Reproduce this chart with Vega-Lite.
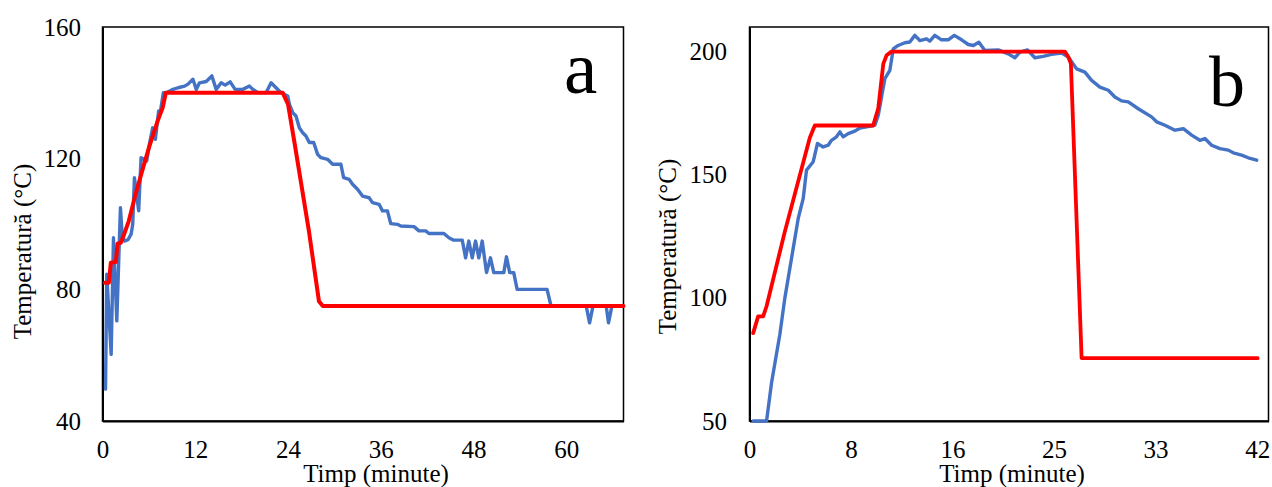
{
  "$schema": "https://vega.github.io/schema/vega-lite/v6.json",
  "background": "white",
  "padding": {"left": 8.5, "top": 14, "right": 2, "bottom": 1},
  "spacing": 126,
  "bounds": "flush",
  "config": {
    "view": {"stroke": "#000", "strokeWidth": 1.5},
    "font": "Liberation Serif",
    "axis": {
      "grid": false, "ticks": false, "domainColor": "#000", "domainWidth": 2,
      "labelFont": "Liberation Serif", "labelFontSize": 25, "labelColor": "#000",
      "labelFlush": false, "labelOverlap": false,
      "titleFont": "Liberation Serif", "titleFontSize": 25, "titleFontWeight": "normal", "titleColor": "#000",
      "titleBaseline": "alphabetic"
    }
  },
  "datasets": {
    "leftMeasured": [
      {"t":0.39,"T":49.7},{"t":0.55,"T":84.7},{"t":1.12,"T":60.3},{"t":1.42,"T":95.8},{"t":1.85,"T":70.5},{"t":2.32,"T":105.0},{"t":2.54,"T":96.9},{"t":2.84,"T":94.8},{"t":3.3,"T":95.2},{"t":3.70,"T":96.9},{"t":3.91,"T":99.9},{"t":4.13,"T":114.1},{"t":4.68,"T":104.0},{"t":4.99,"T":120.2},{"t":5.72,"T":119.2},{"t":6.06,"T":124.3},{"t":6.49,"T":129.3},{"t":6.84,"T":125.8},{"t":7.26,"T":134.4},{"t":7.5,"T":134.4},{"t":7.87,"T":140.0},{"t":8.26,"T":140.0},{"t":9.12,"T":141.0},{"t":9.77,"T":141.5},{"t":10.62,"T":142.0},{"t":11.06,"T":142.6},{"t":11.70,"T":144.1},{"t":12.13,"T":141.0},{"t":12.55,"T":143.0},{"t":13.42,"T":143.4},{"t":14.15,"T":145.1},{"t":14.71,"T":141.0},{"t":15.35,"T":143.0},{"t":15.87,"T":142.3},{"t":16.52,"T":143.3},{"t":17.16,"T":141.0},{"t":18.15,"T":141.0},{"t":19.01,"T":142.0},{"t":19.45,"T":141.0},{"t":20.09,"T":140.0},{"t":21.16,"T":140.0},{"t":21.81,"T":143.0},{"t":22.45,"T":141.5},{"t":23.10,"T":140.0},{"t":23.96,"T":139.0},{"t":24.17,"T":136.5},{"t":24.61,"T":133.9},{"t":25.03,"T":132.9},{"t":25.46,"T":129.3},{"t":25.90,"T":127.8},{"t":26.32,"T":126.8},{"t":26.75,"T":124.8},{"t":27.32,"T":124.8},{"t":27.83,"T":121.2},{"t":28.26,"T":120.2},{"t":29.12,"T":119.7},{"t":29.77,"T":118.2},{"t":30.84,"T":118.2},{"t":31.19,"T":114.1},{"t":31.91,"T":113.6},{"t":32.35,"T":112.1},{"t":32.99,"T":110.6},{"t":33.64,"T":108.5},{"t":34.49,"T":108.0},{"t":34.93,"T":106.5},{"t":35.78,"T":106.0},{"t":36.22,"T":104.0},{"t":36.86,"T":104.0},{"t":37.29,"T":100.1},{"t":38.15,"T":99.9},{"t":38.58,"T":99.4},{"t":40.30,"T":99.2},{"t":40.94,"T":97.9},{"t":41.81,"T":97.9},{"t":42.23,"T":97.1},{"t":44.17,"T":97.1},{"t":44.81,"T":95.8},{"t":45.38,"T":95.1},{"t":46.54,"T":95.1},{"t":46.97,"T":89.7},{"t":47.39,"T":94.8},{"t":47.83,"T":89.7},{"t":48.26,"T":94.8},{"t":48.68,"T":89.7},{"t":49.12,"T":94.8},{"t":49.68,"T":85.2},{"t":50.19,"T":89.7},{"t":50.62,"T":85.2},{"t":51.91,"T":85.2},{"t":52.26,"T":90.0},{"t":52.68,"T":85.2},{"t":53.20,"T":85.2},{"t":53.64,"T":80.1},{"t":57.51,"T":80.1},{"t":58.03,"T":75.0},{"t":62.58,"T":75.0},{"t":63.01,"T":69.9},{"t":63.45,"T":75.0},{"t":65.16,"T":75.0},{"t":65.46,"T":69.9},{"t":65.90,"T":75.0},{"t":67.4,"T":75.0}
    ],
    "leftSetpoint": [
      {"t":0.30,"T":82.1},{"t":0.82,"T":82.1},{"t":1.08,"T":88.2},{"t":1.72,"T":88.4},{"t":1.94,"T":94.0},{"t":2.36,"T":94.3},{"t":2.8,"T":96.9},{"t":3.4,"T":100.9},{"t":4.28,"T":109.1},{"t":5.14,"T":116.2},{"t":6.0,"T":123.2},{"t":7.14,"T":131.4},{"t":7.78,"T":135.4},{"t":8.2,"T":140.0},{"t":23.3,"T":140.0},{"t":24.0,"T":136.5},{"t":24.8,"T":125.3},{"t":26.7,"T":97.9},{"t":28.0,"T":76.5},{"t":28.5,"T":75.0},{"t":67.4,"T":75.0}
    ],
    "leftLabel": [{"t":61.85,"T":139.9,"label":"a"}],
    "rightMeasured": [
      {"t":0.30,"T":50},{"t":1.40,"T":50},{"t":1.81,"T":65.5},{"t":2.49,"T":85.1},{"t":2.90,"T":99.9},{"t":3.59,"T":120.2},{"t":4.0,"T":132.3},{"t":4.41,"T":140.4},{"t":4.68,"T":151.9},{"t":5.23,"T":155.3},{"t":5.58,"T":162.7},{"t":6.05,"T":161.3},{"t":6.46,"T":162.0},{"t":6.73,"T":164.0},{"t":7.14,"T":165.4},{"t":7.42,"T":167.4},{"t":7.69,"T":165.4},{"t":8.10,"T":166.7},{"t":8.65,"T":167.7},{"t":9.06,"T":169.0},{"t":10.29,"T":170.1},{"t":10.57,"T":174.2},{"t":11.11,"T":189.0},{"t":11.52,"T":192.4},{"t":11.8,"T":201.1},{"t":12.2,"T":202.5},{"t":12.75,"T":203.6},{"t":13.16,"T":203.9},{"t":13.57,"T":206.6},{"t":13.98,"T":204.5},{"t":14.53,"T":205.2},{"t":14.80,"T":204.3},{"t":15.21,"T":206.6},{"t":15.76,"T":204.8},{"t":16.31,"T":204.8},{"t":16.81,"T":206.6},{"t":17.41,"T":204.8},{"t":17.96,"T":202.9},{"t":18.37,"T":202.5},{"t":18.83,"T":203.8},{"t":19.32,"T":200.5},{"t":20.42,"T":200.7},{"t":21.24,"T":199.1},{"t":21.78,"T":197.5},{"t":22.19,"T":199.8},{"t":22.82,"T":200.7},{"t":23.42,"T":197.5},{"t":24.11,"T":198.1},{"t":24.79,"T":198.9},{"t":25.62,"T":199.4},{"t":26.17,"T":197.8},{"t":26.85,"T":193.0},{"t":27.53,"T":191.7},{"t":28.08,"T":188.3},{"t":28.76,"T":185.6},{"t":29.45,"T":184.3},{"t":29.99,"T":181.6},{"t":30.54,"T":180.0},{"t":31.09,"T":179.6},{"t":31.91,"T":176.8},{"t":33.00,"T":173.5},{"t":33.42,"T":171.5},{"t":34.10,"T":170.1},{"t":34.92,"T":168.1},{"t":35.61,"T":168.7},{"t":36.29,"T":166.1},{"t":36.97,"T":164.0},{"t":37.38,"T":164.7},{"t":37.93,"T":162.0},{"t":38.61,"T":160.6},{"t":39.30,"T":160.0},{"t":39.71,"T":158.9},{"t":40.39,"T":158.0},{"t":40.94,"T":156.9},{"t":41.63,"T":155.9}
    ],
    "rightSetpoint": [
      {"t":0.30,"T":85.7},{"t":0.71,"T":92.5},{"t":1.12,"T":92.5},{"t":1.40,"T":96.6},{"t":2.90,"T":126.9},{"t":4.95,"T":165.0},{"t":5.36,"T":170.0},{"t":10.15,"T":170.0},{"t":10.57,"T":177.0},{"t":10.98,"T":195.0},{"t":11.25,"T":198.5},{"t":11.66,"T":200.0},{"t":25.89,"T":200.0},{"t":26.17,"T":197.8},{"t":26.38,"T":195.1},{"t":27.26,"T":75.5},{"t":41.71,"T":75.5}
    ],
    "rightLabel": [{"t":39.2,"T":178,"label":"b"}]
  },
  "hconcat": [
    {
      "width": 521, "height": 394,
      "encoding": {
        "x": {"field": "t", "type": "quantitative", "scale": {"domain": [0, 67.4], "nice": false, "zero": false},
              "axis": {"title": "Timp (minute)", "values": [0, 12, 24, 36, 48, 60], "labelFont": "Liberation Serif", "titleFont": "Liberation Serif", "labelPadding": 16, "titleX": 273, "titleY": 60}},
        "y": {"field": "T", "type": "quantitative", "scale": {"domain": [40, 160], "nice": false, "zero": false},
              "axis": {"title": "Temperatură (°C)", "values": [40, 80, 120, 160], "labelFont": "Liberation Serif", "titleFont": "Liberation Serif", "labelPadding": 22, "titleX": -72.5, "titleY": 224}}
      },
      "layer": [
        {"data": {"name": "leftMeasured"}, "mark": {"type": "line", "color": "#4472C4", "strokeWidth": 3.4, "strokeJoin": "round", "strokeCap": "round"}},
        {"data": {"name": "leftSetpoint"}, "mark": {"type": "line", "color": "#FF0000", "strokeWidth": 4, "strokeJoin": "round", "strokeCap": "round"}},
        {"data": {"name": "leftLabel"}, "mark": {"type": "text", "font": "Liberation Serif", "fontSize": 75, "align": "center", "baseline": "alphabetic", "color": "#000"},
         "encoding": {"text": {"field": "label"}}}
      ]
    },
    {
      "width": 519, "height": 394,
      "encoding": {
        "x": {"field": "t", "type": "quantitative", "scale": {"domain": [0, 42.6], "nice": false, "zero": false},
              "axis": {"title": "Timp (minute)", "values": [0, 8.333, 16.667, 25, 33.333, 41.667], "labelExpr": "datum.value > 16 && datum.value < 17 ? '16' : format(datum.value, '.0f')", "labelFont": "Liberation Serif", "titleFont": "Liberation Serif", "labelPadding": 16, "titleX": 262, "titleY": 60}},
        "y": {"field": "T", "type": "quantitative", "scale": {"domain": [50, 210], "nice": false, "zero": false},
              "axis": {"title": "Temperatură (°C)", "values": [50, 100, 150, 200], "labelFont": "Liberation Serif", "titleFont": "Liberation Serif", "labelPadding": 23, "titleX": -74, "titleY": 219}}
      },
      "layer": [
        {"data": {"name": "rightMeasured"}, "mark": {"type": "line", "color": "#4472C4", "strokeWidth": 3.4, "strokeJoin": "round", "strokeCap": "round"}},
        {"data": {"name": "rightSetpoint"}, "mark": {"type": "line", "color": "#FF0000", "strokeWidth": 3.8, "strokeJoin": "round", "strokeCap": "round"}},
        {"data": {"name": "rightLabel"}, "mark": {"type": "text", "font": "Liberation Serif", "fontSize": 72, "align": "center", "baseline": "alphabetic", "color": "#000"},
         "encoding": {"text": {"field": "label"}}}
      ]
    }
  ]
}
